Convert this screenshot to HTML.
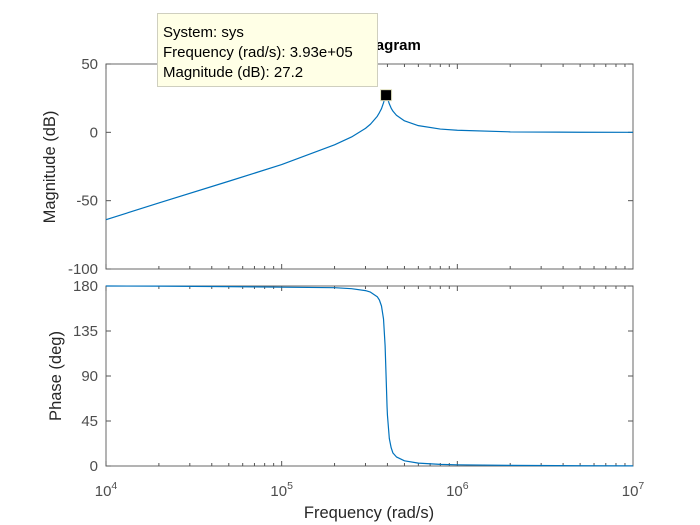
<!DOCTYPE html>
<html><head><meta charset="utf-8"><style>
body{margin:0;background:#fff;width:700px;height:525px;overflow:hidden}
svg{font-family:"Liberation Sans",sans-serif;display:block}
</style></head><body>
<svg id="c" width="700" height="525" xmlns="http://www.w3.org/2000/svg">
<text x="370" y="50" text-anchor="middle" font-size="15" font-weight="bold" fill="#000">Bode Diagram</text>
<text x="369" y="518" text-anchor="middle" font-size="16.5" fill="#262626">Frequency  (rad/s)</text>
<text transform="translate(55,167) rotate(-90)" text-anchor="middle" font-size="16.5" fill="#262626">Magnitude (dB)</text>
<text transform="translate(61,376) rotate(-90)" text-anchor="middle" font-size="16.5" fill="#262626">Phase (deg)</text>
</svg>
<script>
const freqs=[1e4,2e4,5e4,1e5,2e5,2.5e5,3e5,3.2e5,3.5e5,3.6e5,3.7e5,3.8e5,3.88e5,3.93e5,3.98e5,4.0e5,4.1e5,4.2e5,4.3e5,4.5e5,5e5,6e5,8e5,1e6,2e6,5e6,1e7];
const magDb=[-63.9,-51.7,-35.8,-23.6,-9.1,-3.4,2.9,5.9,11.7,14.4,17.3,21.6,25.7,27.2,26.1,25.1,20.8,17.7,15.5,12.5,8.4,4.9,2.4,1.5,0.35,0.05,0];
const phaseDeg=[180,179.9,179.4,178.8,178.3,177.3,175.4,173.9,169.3,166,160,147,120.3,90,59.5,51,27.5,18.3,13,9.1,5.2,2.9,1.6,1.2,0.6,0.25,0.1];
const magTicks=[50,0,-50,-100];
const phaseTicks=[180,135,90,45,0];
const decades=[4,5,6,7];
const peakFreq=3.93e5, peakMag=27.2;

const svg=document.getElementById('c');const NS='http://www.w3.org/2000/svg';
function el(t,a,p){const e=document.createElementNS(NS,t);for(const k in a)e.setAttribute(k,a[k]);(p||svg).appendChild(e);return e;}
const X0=106,X1=633;
const xs=f=>X0+(Math.log10(f)-4)/3*(X1-X0);
const yMag=v=>64+(50-v)/150*(269-64);
const yPh=v=>286+(180-v)/180*(466-286);
function axes(name,yT,yB,ticks,ys){
  const g=el('g',{});
  
  
  el('rect',{x:X0,y:yT,width:X1-X0,height:yB-yT,fill:'#fff',stroke:'#262626','stroke-opacity':0.7,'stroke-width':1},g);
  for(let d=4;d<7;d++)for(let m=1;m<=9;m++){const x=xs(m*Math.pow(10,d));const L=m===1?5:3;
    el('line',{x1:x,x2:x,y1:yB,y2:yB-L,stroke:'#555'},g);el('line',{x1:x,x2:x,y1:yT,y2:yT+L,stroke:'#555'},g);}
  ticks.forEach(t=>{const y=ys(t);el('line',{x1:X0,x2:X0+5,y1:y,y2:y,stroke:'#555'},g);el('line',{x1:X1,x2:X1-5,y1:y,y2:y,stroke:'#555'},g);
    const tx=el('text',{x:X0-8,y:y+5,'text-anchor':'end','font-size':15,fill:'#4d4d4d'},g);tx.textContent=t;});
  return g;
}
axes('magnitude-axes',64,269,magTicks,yMag);
axes('phase-axes',286,466,phaseTicks,yPh);
const p1=el('polyline',{points:freqs.map((f,i)=>xs(f)+','+yMag(magDb[i])).join(' '),fill:'none',stroke:'#0072bd','stroke-width':1.2,'stroke-linejoin':'round'});


const p2=el('polyline',{points:freqs.map((f,i)=>xs(f)+','+yPh(phaseDeg[i])).join(' '),fill:'none',stroke:'#0072bd','stroke-width':1.2,'stroke-linejoin':'round'});


decades.forEach(d=>{const t=el('text',{x:xs(Math.pow(10,d)),y:496,'text-anchor':'middle','font-size':15,fill:'#4d4d4d'});
  
  
  t.innerHTML='10<tspan dy="-7" font-size="10.5">'+d+'</tspan>';});
const tip=el('g',{});


el('rect',{x:157.5,y:13.5,width:220,height:73,fill:'#ffffe6',stroke:'#cfcfbf'},tip);
['System: sys','Frequency (rad/s): 3.93e+05','Magnitude (dB): 27.2'].forEach((s,i)=>{const t=el('text',{x:163,y:37+20*i,'font-size':15,fill:'#000'},tip);t.textContent=s;});
const m=el('rect',{x:xs(peakFreq)-5.5,y:yMag(peakMag)-5.5,width:11,height:11,fill:'#000',stroke:'#e0e0c0'});


</script>
</body></html>
